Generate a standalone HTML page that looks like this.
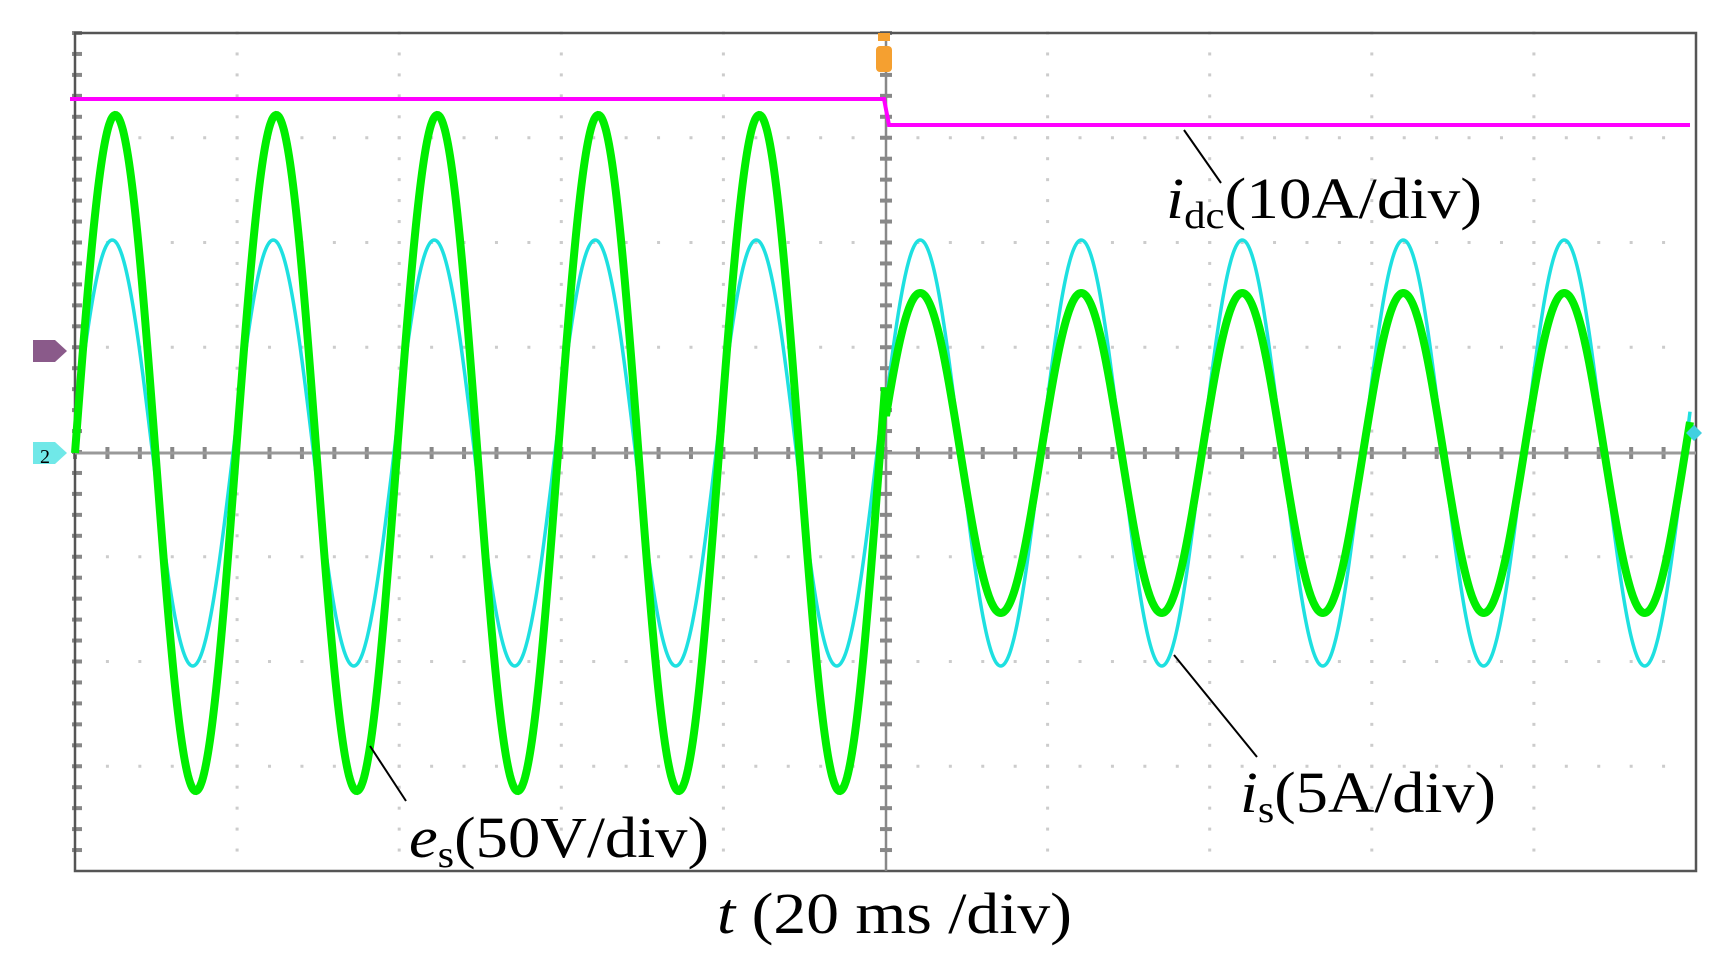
<!DOCTYPE html>
<html><head><meta charset="utf-8"><style>
html,body{margin:0;padding:0;background:#fff;width:1731px;height:968px;overflow:hidden}
svg{display:block}
text{font-family:"Liberation Serif",serif;fill:#000}
</style></head><body>
<svg id="s" width="1731" height="968" viewBox="0 0 1731 968" xmlns="http://www.w3.org/2000/svg">
<g id="grid"></g>
<rect x="75" y="33" width="1621" height="838" fill="none" stroke="#555" stroke-width="2.5"/>
<line x1="75" y1="453" x2="1696" y2="453" stroke="#999" stroke-width="3"/>
<line x1="886" y1="33" x2="886" y2="871" stroke="#888" stroke-width="2.5"/>
<path id="cy" fill="none" stroke="#1ee0e0" stroke-width="3.5"/>
<path id="gr" fill="none" stroke="#00ee00" stroke-width="8"/>
<polyline points="70,99 884,99 889,125 1690,125" fill="none" stroke="#ff00ff" stroke-width="4"/>
<rect x="878" y="33" width="12" height="8" fill="#f5a030"/>
<rect x="876" y="46" width="16" height="26" rx="4" fill="#f5a030"/>
<path d="M33,340 h22 l12,11 l-12,11 h-22z" fill="#8a5a8a"/>
<path d="M33,442 h22 l12,11 l-12,11 h-22z" fill="#70e8e8"/>
<text x="40" y="463" font-size="20" font-family="Liberation Sans" fill="#557">2</text>
<path d="M1686,433 l8,-8 l8,8 l-8,8z" fill="#40d0e0"/>
<g stroke="#000" stroke-width="2">
<line x1="1184" y1="130" x2="1221" y2="183"/>
<line x1="370" y1="746" x2="406" y2="801"/>
<line x1="1174" y1="655" x2="1257" y2="757"/>
</g>
<text x="1166" y="218" font-size="58" textLength="316" lengthAdjust="spacingAndGlyphs"><tspan font-style="italic">i</tspan><tspan font-size="38" dy="10">dc</tspan><tspan dy="-10">(10A/div)</tspan></text>
<text x="409" y="857" font-size="58" textLength="300" lengthAdjust="spacingAndGlyphs"><tspan font-style="italic">e</tspan><tspan font-size="38" dy="10">s</tspan><tspan dy="-10">(50V/div)</tspan></text>
<text x="1240" y="812" font-size="58" textLength="256" lengthAdjust="spacingAndGlyphs"><tspan font-style="italic">i</tspan><tspan font-size="38" dy="10">s</tspan><tspan dy="-10">(5A/div)</tspan></text>
<text x="717" y="933" font-size="58" textLength="355" lengthAdjust="spacingAndGlyphs"><tspan font-style="italic">t</tspan> (20 ms /div)</text>
</svg>
<script>
var g=document.getElementById("grid"),h="";
var L=75,R=1696,T=33,B=871,dx=162.1,dy=104.75;
for(var i=1;i<10;i++){var x=L+i*dx;for(var y=T;y<B;y+=dy/5)h+='<rect x="'+(x-1.5)+'" y="'+(y-1.5)+'" width="3" height="3" fill="#ccc"/>';}
for(var j=1;j<8;j++){var y=T+j*dy;for(var x=L;x<R;x+=dx/5)h+='<rect x="'+(x-1.5)+'" y="'+(y-1.5)+'" width="3" height="3" fill="#ccc"/>';}
for(var x=L;x<R;x+=dx/5){h+='<rect x="'+(x-2)+'" y="447" width="4" height="12" fill="#888"/>';}
for(var y=T;y<B;y+=dy/5){h+='<rect x="880" y="'+(y-2)+'" width="12" height="4" fill="#888"/>';h+='<rect x="72" y="'+(y-2)+'" width="10" height="4" fill="#888"/>';}
g.innerHTML=h;
function wave(a1,a2,sh1,sh2){var d="";for(var x=75;x<=1690;x+=1){var t,a;if(x<886){t=x-75+sh1;a=a1}else{t=x-886+sh2;a=a2}
var y=453-a*Math.sin(2*Math.PI*t/161);d+=(d?"L":"M")+x+","+y.toFixed(1);}return d;}
document.getElementById("gr").setAttribute("d",wave(338,160,0,6));
document.getElementById("cy").setAttribute("d",wave(213,213,3,6));
</script>
</body></html>
